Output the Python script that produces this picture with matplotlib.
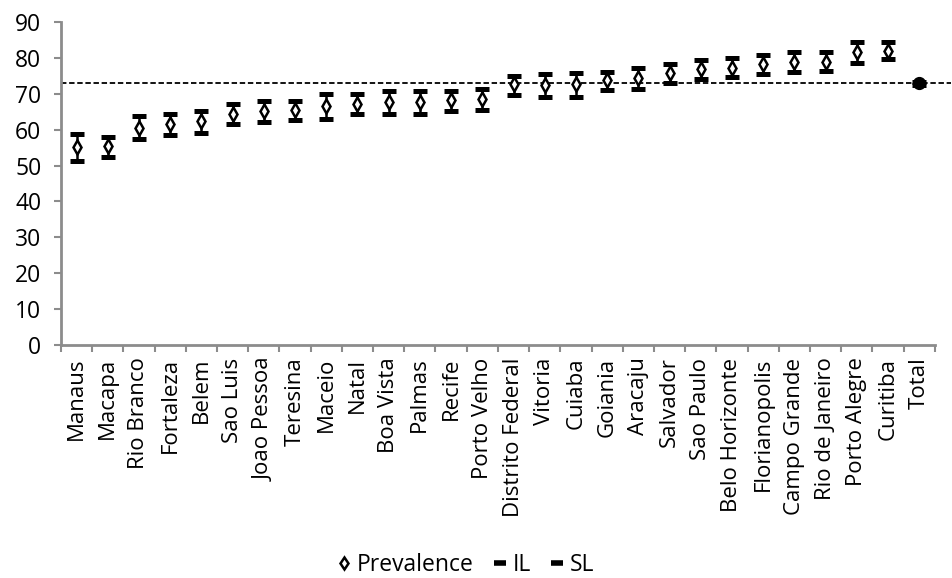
import numpy as np
import matplotlib
matplotlib.use("Agg")
import matplotlib.pyplot as plt
from matplotlib.lines import Line2D

# city-level prevalence with lower (IL) and upper (SL) limits
cities = ["Manaus", "Macapa", "Rio Branco", "Fortaleza", "Belem", "Sao Luis",
          "Joao Pessoa", "Teresina", "Maceio", "Natal", "Boa Vista", "Palmas",
          "Recife", "Porto Velho", "Distrito Federal", "Vitoria", "Cuiaba",
          "Goiania", "Aracaju", "Salvador", "Sao Paulo", "Belo Horizonte",
          "Florianopolis", "Campo Grande", "Rio de Janeiro", "Porto Alegre",
          "Curitiba", "Total"]
prevalence = [55.1, 55.4, 60.6, 61.6, 62.4, 64.5, 65.2, 65.5, 66.6, 67.1,
              67.6, 67.8, 68.2, 68.5, 72.7, 72.4, 72.7, 73.8, 74.3, 75.7,
              76.9, 77.3, 78.2, 78.9, 78.9, 81.5, 81.9, 72.9]
il = [51.2, 52.5, 57.4, 58.5, 59.0, 61.6, 62.2, 62.7, 62.9, 64.3,
      64.3, 64.3, 65.3, 65.6, 69.6, 69.2, 69.2, 71.0, 71.3, 72.9,
      74.1, 74.6, 75.5, 76.0, 76.4, 78.7, 79.7, 72.5]
sl = [58.7, 58.0, 63.9, 64.5, 65.3, 67.1, 68.0, 68.0, 69.9, 69.9,
      70.8, 70.8, 70.8, 71.2, 75.0, 75.4, 75.9, 76.2, 77.3, 78.2,
      79.4, 79.9, 80.8, 81.7, 81.7, 84.3, 84.3, 73.3]
total_value = 72.9

plt.rcParams['font.family'] = ['Open Sans', 'DejaVu Sans']

fig = plt.figure(figsize=(9.52, 5.78), dpi=100)
ax = fig.add_axes([0.064, 0.403, 0.918, 0.559])

x = np.arange(len(cities))
n = len(cities) - 1  # index of the total point

# high-low lines
ax.vlines(x, il, sl, color="black", lw=1.8, zorder=3)
ax.plot(x, il, ls="none", marker="_", ms=9.5, mew=3.6, color="black", zorder=4)
ax.plot(x, sl, ls="none", marker="_", ms=9.5, mew=3.6, color="black", zorder=4)

# prevalence diamonds (total is filled)
ax.plot(x[:n], prevalence[:n], ls="none", marker="d", ms=7.5, mew=1.8,
        mfc="white", mec="black", zorder=5)
ax.plot(x[n], prevalence[n], ls="none", marker="o", ms=8.5,
        mfc="black", mec="black", zorder=5)

# reference line at the total prevalence
ax.plot([0, 1.018], [total_value, total_value], transform=ax.get_yaxis_transform(),
        color="black", ls=(0, (3, 1.5)), lw=1.3, clip_on=False, zorder=2)

ax.set_xlim(-0.5, len(cities) - 0.5)
ax.set_ylim(0, 90)
ax.set_yticks(range(0, 91, 10))
ax.set_xticks(x)
ax.set_xticklabels(cities, rotation=90, fontsize=16)
ax.set_xticks(np.arange(-0.5, len(cities), 1), minor=True)
ax.tick_params(axis="x", which="major", length=0, pad=9)
ax.tick_params(axis="x", which="minor", length=5, width=1.5, color="#8c8c8c")
ax.tick_params(axis="y", length=5, width=1.5, color="#8c8c8c", labelsize=16.5, pad=9)

for side in ["top", "right"]:
    ax.spines[side].set_visible(False)
for side in ["left", "bottom"]:
    ax.spines[side].set_color("#8c8c8c")
    ax.spines[side].set_linewidth(2)

handles = [
    Line2D([], [], ls="none", marker="d", ms=6, mew=1.8, mfc="white", mec="black"),
    Line2D([], [], ls="none", marker="_", ms=8, mew=4, color="black"),
    Line2D([], [], ls="none", marker="_", ms=8, mew=4, color="black"),
]
fig.legend(handles, ["Prevalence", "IL", "SL"], loc="center", ncol=3,
           bbox_to_anchor=(0.49, 0.0225), frameon=False, fontsize=16.5,
           handlelength=0.5, handletextpad=0.3, columnspacing=0.9)

fig.savefig("out.png", dpi=100)
